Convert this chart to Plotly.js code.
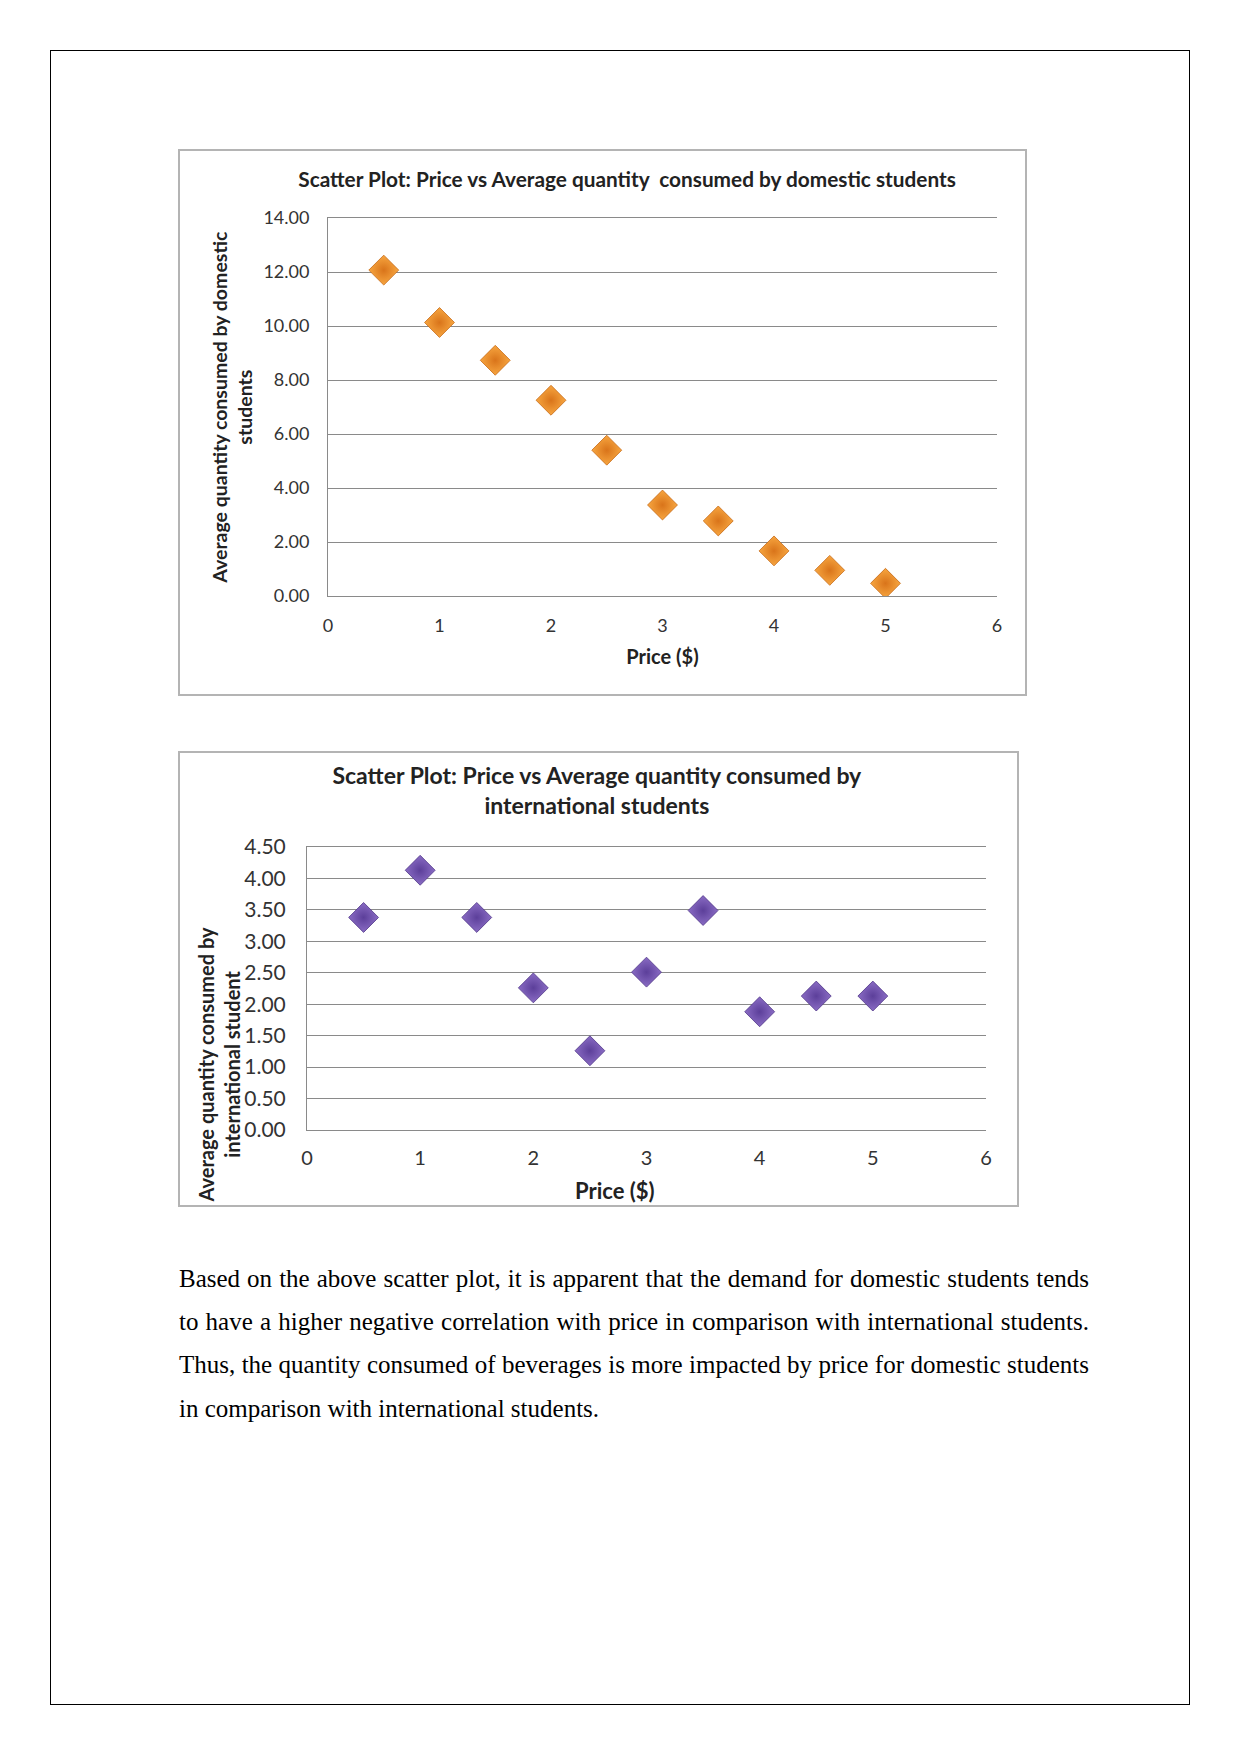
<!DOCTYPE html>
<html>
<head>
<meta charset="utf-8">
<script src="https://cdn.plot.ly/plotly-3.0.1.min.js"></script>
<style>
  html, body { margin:0; padding:0; background:#fff; }
  body { width:1241px; height:1754px; position:relative; overflow:hidden; }
  #page { position:absolute; left:50px; top:50px; width:1138px; height:1653px; border:1px solid #000; }
  .chart { position:absolute; }
  .frame { position:absolute; border:2px solid #b4b4b4; box-sizing:border-box; pointer-events:none; }
  #para { position:absolute; left:179px; top:1257px; width:910px; font-family:"Liberation Serif", "Times New Roman", serif;
          font-size:25px; line-height:43.2px; text-align:justify; color:#000; }
</style>
</head>
<body>
<div id="page"></div>
<div id="c1" class="chart" style="left:179px; top:150px; width:847px; height:545px;"></div>
<div class="frame" style="left:178px; top:149px; width:849px; height:547px;"></div>
<div id="c2" class="chart" style="left:179px; top:752px; width:839px; height:454px;"></div>
<div class="frame" style="left:178px; top:751px; width:841px; height:456px;"></div>
<div id="para">Based on the above scatter plot, it is apparent that the demand for domestic students tends to have a higher negative correlation with price in comparison with international students. Thus, the quantity consumed of beverages is more impacted by price for domestic students in comparison with international students.</div>
<script>
// ---- data ----
const price = [0.5, 1, 1.5, 2, 2.5, 3, 3.5, 4, 4.5, 5];
const domesticQty = [12.07, 10.13, 8.73, 7.25, 5.40, 3.37, 2.78, 1.67, 0.95, 0.47];
const internationalQty = [3.38, 4.13, 3.38, 2.26, 1.26, 2.51, 3.49, 1.88, 2.13, 2.13];

const title1 = "Scatter Plot: Price vs Average quantity  consumed by domestic students";
const title2 = "Scatter Plot: Price vs Average quantity consumed by<br>international students";
const yTitle1 = "Average quantity consumed by domestic<br>students";
const yTitle2 = "Average quantity consumed by<br>international student";
const xTitle = "Price ($)";

const FONT = "Lato, 'Open Sans', sans-serif";
const GRID = "#8a8a8a";

function axisX(tickSize, titleSize, labelGap, titleGap, titleText) {
  return {
    range: [0, 6], dtick: 1, tick0: 0, showgrid: false, zeroline: false,
    showline: true, mirror: true, linecolor: GRID, linewidth: 1,
    ticks: "", ticklabelstandoff: labelGap, tickfont: {family: FONT, size: tickSize, color: "#333"},
    title: {text: titleText, font: {family: FONT, size: titleSize, color: "#222", weight: "bold"}, standoff: titleGap},
    automargin: false, fixedrange: true
  };
}
function axisY(max, dt, tickSize, labelGap) {
  return {
    range: [0, max], dtick: dt, tick0: 0, tickformat: ".2f", showgrid: true, gridcolor: GRID, gridwidth: 1,
    zeroline: false, showline: true, linecolor: GRID, linewidth: 1, ticks: "",
    ticklabelstandoff: labelGap, tickfont: {family: FONT, size: tickSize, color: "#333"},
    automargin: false, fixedrange: true
  };
}

const cfg = {staticPlot: true, displayModeBar: false};

Plotly.newPlot("c1", [{
  x: price, y: domesticQty, type: "scatter", mode: "markers",
  marker: {symbol: "diamond", size: 23, color: "#f7a640",
           gradient: {type: "radial", color: "#d9741a"},
           line: {color: "#c76a15", width: 0.8}}
}], {
  width: 847, height: 545, margin: {l: 149, r: 29, t: 68, b: 99},
  paper_bgcolor: "#fff", plot_bgcolor: "#fff", showlegend: false,
  title: {text: title1, x: 0.529, xanchor: "center", xref: "container", y: 0.945, yanchor: "middle", yref: "container",
          font: {family: FONT, size: 20.8, color: "#222", weight: "bold"}},
  xaxis: axisX(18, 20, 13, 15, xTitle), yaxis: axisY(14, 2, 18, 14),
  annotations: [{
    text: yTitle1, xref: "paper", yref: "paper", x: -0.144, y: 0.5, xanchor: "center", yanchor: "middle",
    textangle: -90, showarrow: false, font: {family: FONT, size: 19.5, color: "#222", weight: "bold"}
  }]
}, cfg);

Plotly.newPlot("c2", [{
  x: price, y: internationalQty, type: "scatter", mode: "markers",
  marker: {symbol: "diamond", size: 23, color: "#8a6cc4",
           gradient: {type: "radial", color: "#5c3f9a"},
           line: {color: "#4f3588", width: 0.8}}
}], {
  width: 839, height: 454, margin: {l: 128, r: 32, t: 95, b: 76},
  paper_bgcolor: "#fff", plot_bgcolor: "#fff", showlegend: false,
  title: {text: title2, x: 0.498, xanchor: "center", xref: "container", y: 0.93, yanchor: "middle", yref: "container",
          font: {family: FONT, size: 23, color: "#222", weight: "bold"}},
  xaxis: axisX(20, 22, 10, 18, ""), yaxis: axisY(4.5, 0.5, 21, 16),
  annotations: [{
    text: yTitle2, xref: "paper", yref: "paper", x: -0.129, y: 0.233, xanchor: "center", yanchor: "middle",
    textangle: -90, showarrow: false, font: {family: FONT, size: 20, color: "#222", weight: "bold"}
  }, {
    text: xTitle, xref: "paper", yref: "paper", x: 0.454, y: -0.214, xanchor: "center", yanchor: "middle",
    showarrow: false, font: {family: FONT, size: 22, color: "#222", weight: "bold"}
  }]
}, cfg);
</script>
</body>
</html>
